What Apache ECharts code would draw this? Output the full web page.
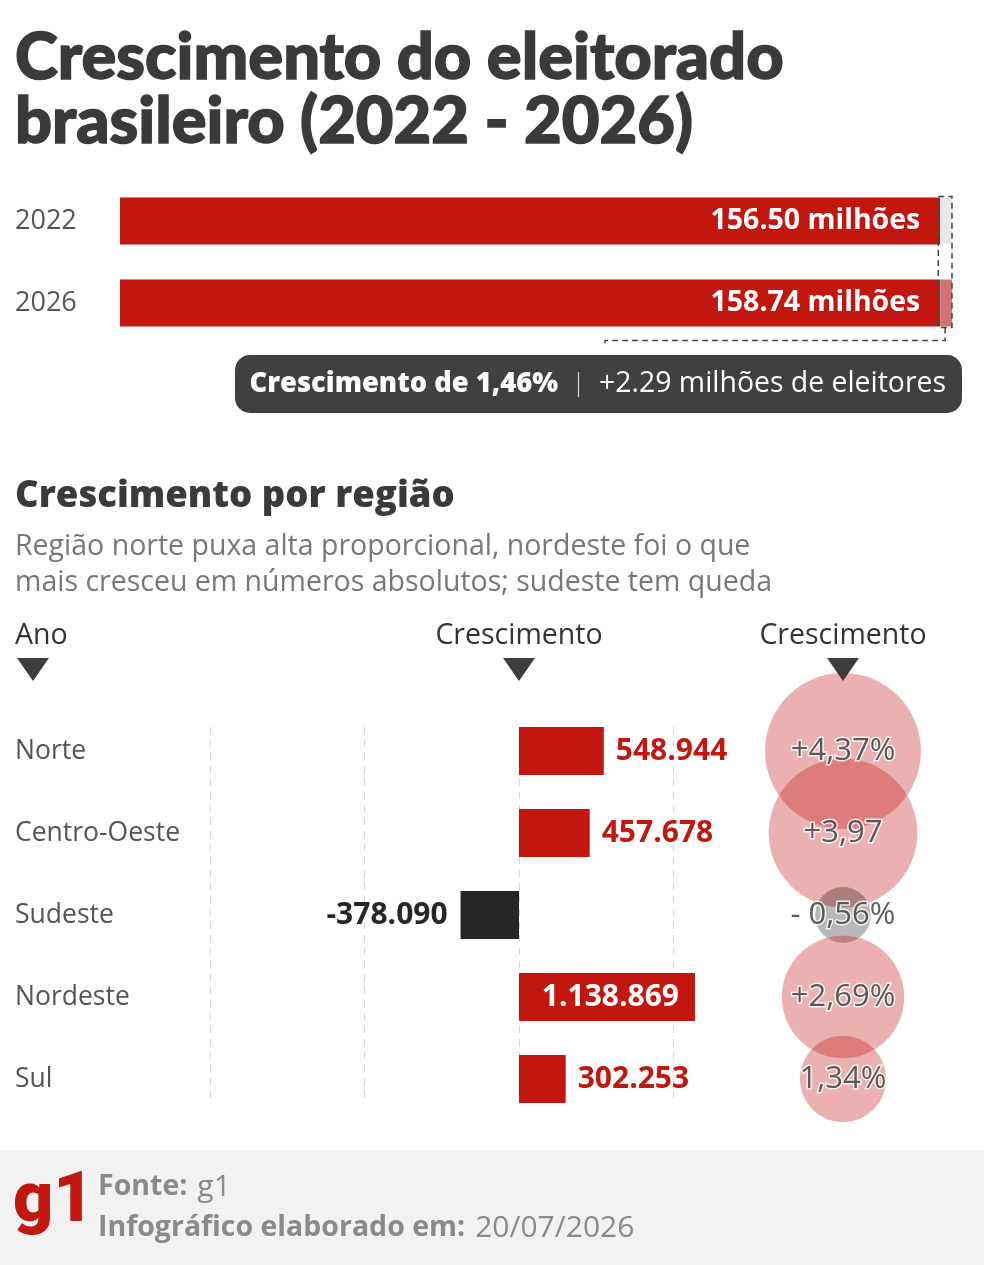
<!DOCTYPE html>
<html><head><meta charset="utf-8">
<script src="https://cdn.jsdelivr.net/npm/echarts@6/dist/echarts.min.js"></script>
<style>html,body{margin:0;padding:0;background:#fff}#c{width:984px;height:1265px}</style>
</head><body><div id="c"></div>
<script>
// ---- data ----
const years = ['2022', '2026'];
const voters = [156.50, 158.74]; // milhões de eleitores
const summaryTexts = ['Crescimento de 1,46%', '+2.29 milhões de eleitores'];
const regions = ['Norte', 'Centro-Oeste', 'Sudeste', 'Nordeste', 'Sul'];
const growthAbs = [548944, 457678, -378090, 1138869, 302253];
const growthPct = [4.37, 3.97, -0.56, 2.69, 1.34];
const growthPctLabels = ['+4,37%', '+3,97', '- 0,56%', '+2,69%', '1,34%'];
const absAxis = { min: -2000000, max: 1000000, interval: 1000000 };
const headers = ['Ano', 'Crescimento', 'Crescimento'];
const footerTexts = [['Fonte:', 'g1'], ['Infográfico elaborado em:', '20/07/2026']];

// ---- style ----
const FONT = 'Open Sans';
const TFONT = 'Lato';
const RED = '#c2170f';
const DARK = '#3a3a3a';
const fmtBR = n => (n < 0 ? '-' : '') + Math.abs(n).toString().replace(/\B(?=(\d{3})+(?!\d))/g, '.');

const baseVal = Math.min(...voters);
const deltaVal = Math.max(...voters) - baseVal;
const deltaColors = ['#e8e8e8', '#d4736f'];

const chart = echarts.init(document.getElementById('c'), null, { renderer: 'canvas' });

const option = {
  backgroundColor: '#fff',
  animation: false,
  textStyle: { fontFamily: FONT },
  title: [
    {
      text: 'Crescimento do eleitorado\nbrasileiro (2022 - 2026)',
      left: 15, top: 26, padding: 0,
      textStyle: { fontFamily: TFONT, fontSize: 65, fontWeight: 900, color: DARK, lineHeight: 64,
                   textBorderColor: DARK, textBorderWidth: 1.5 }
    },
    {
      text: 'Crescimento por região',
      subtext: 'Região norte puxa alta proporcional, nordeste foi o que\nmais cresceu em números absolutos; sudeste tem queda',
      left: 15, top: 478, itemGap: 14, padding: 0,
      textStyle: { fontFamily: FONT, fontSize: 36.5, fontWeight: 800, color: DARK },
      subtextStyle: { fontFamily: FONT, fontSize: 28.5, color: '#777', lineHeight: 36 }
    }
  ],
  grid: [
    { left: 120, top: 180, height: 164, right: 32 },
    { left: 210, top: 727, height: 375, width: 463.5 },
    { left: 210, top: 710, height: 410, width: 463.5 },
    { left: 743, top: 710, height: 410, width: 200 }
  ],
  xAxis: [
    { gridIndex: 0, type: 'value', min: 0, max: v => v.max, show: false },
    { gridIndex: 1, type: 'value', min: absAxis.min, max: absAxis.max, interval: absAxis.interval,
      axisLabel: { show: false }, axisLine: { show: false }, axisTick: { show: false },
      splitLine: { show: true, lineStyle: { color: '#d4d4d4', width: 1, type: [7, 6] } } },
    { gridIndex: 2, type: 'value', min: absAxis.min, max: absAxis.max, show: false, splitLine: { show: false } },
    { gridIndex: 3, type: 'value', min: -1, max: 1, show: false, splitLine: { show: false } }
  ],
  yAxis: [
    { gridIndex: 0, type: 'category', data: years, inverse: true,
      axisLine: { show: false }, axisTick: { show: false },
      axisLabel: { margin: 105, align: 'left', fontSize: 27, color: '#555', fontFamily: FONT } },
    { gridIndex: 1, type: 'category', data: regions, inverse: true, show: false },
    { gridIndex: 2, type: 'category', data: regions, inverse: true,
      axisLine: { show: false }, axisTick: { show: false },
      axisLabel: { margin: 195, align: 'left', fontSize: 26.5, color: '#555', fontFamily: FONT } },
    { gridIndex: 3, type: 'category', data: regions, inverse: true, show: false }
  ],
  series: [
    {
      type: 'bar', xAxisIndex: 0, yAxisIndex: 0, stack: 'total', barWidth: 47,
      data: voters.map(() => baseVal),
      itemStyle: { color: RED },
      label: {
        show: true, position: 'insideRight', distance: 20,
        formatter: p => voters[p.dataIndex].toFixed(2) + ' milhões',
        color: '#fff', fontSize: 28.5, fontWeight: 'bold', fontFamily: FONT
      }
    },
    {
      type: 'bar', xAxisIndex: 0, yAxisIndex: 0, stack: 'total', barWidth: 47,
      data: voters.map((v, i) => ({ value: deltaVal, itemStyle: { color: deltaColors[i] } }))
    },
    {
      type: 'bar', xAxisIndex: 2, yAxisIndex: 2, barWidth: 48, clip: false,
      data: growthAbs.map(v => {
        const neg = v < 0, big = Math.abs(v) >= absAxis.interval;
        return {
          value: v,
          itemStyle: { color: neg ? '#262626' : RED },
          label: {
            show: true,
            position: neg ? 'left' : (big ? 'insideRight' : 'right'),
            distance: neg ? 13 : (big ? 16 : 12),
            color: neg ? '#262626' : (big ? '#fff' : RED),
            fontSize: 30, fontWeight: 'bold', fontFamily: FONT,
            formatter: () => fmtBR(v)
          }
        };
      })
    },
    {
      type: 'scatter', xAxisIndex: 3, yAxisIndex: 3, symbol: 'circle',
      data: growthPct.map((v, i) => ({
        value: [0, regions[i]],
        symbolSize: 74.6 * Math.sqrt(Math.abs(v)),
        itemStyle: { color: v < 0 ? 'rgba(0,0,0,0.35)' : 'rgba(196,22,22,0.42)' },
        label: { formatter: growthPctLabels[i] }
      })),
      label: {
        show: true, position: 'inside', fontSize: 31, color: '#333', fontFamily: FONT,
        textBorderColor: '#fff', textBorderWidth: 3
      }
    }
  ]
};
chart.setOption(option);

// ---- annotations placed through the chart's own scales ----
const p22 = chart.convertToPixel({ gridIndex: 0 }, [baseVal, years[0]]);
const p26 = chart.convertToPixel({ gridIndex: 0 }, [baseVal + deltaVal, years[1]]);
const halfBar = 47 / 2 + 1;
const boxX1 = p22[0] - 2, boxX2 = p26[0], boxY1 = p22[1] - halfBar, boxY2 = p26[1] + halfBar;
const boxMid = (boxX1 + boxX2) / 2;
const zeroX = chart.convertToPixel({ gridIndex: 2 }, [0, regions[0]])[0];
const bubbleX = chart.convertToPixel({ gridIndex: 3 }, [0, regions[0]])[0];
const headerXs = [15, zeroX, bubbleX];

const tri = (cx) => ({
  type: 'polygon', shape: { points: [[cx - 16, 658], [cx + 16, 658], [cx, 681]] },
  style: { fill: '#3d3d3d' }, z: 100
});
const footStyle = (pair) => ({
  text: '{b|' + pair[0] + '}{g| }{r|' + pair[1] + '}', verticalAlign: 'middle',
  rich: {
    b: { fontFamily: FONT, fontSize: 28.5, fontWeight: 'bold', fill: '#8a8a8a' },
    g: { fontFamily: FONT, fontSize: 30, fill: '#8a8a8a', width: 10 },
    r: { fontFamily: FONT, fontSize: 30, fontWeight: 'normal', fill: '#8a8a8a' }
  }
});

const graphics = [
  { type: 'rect', shape: { x: 0, y: 1150, width: 984, height: 115 }, style: { fill: '#f2f2f2' }, z: 0 },
  { type: 'text', x: 13, y: 1203, z: 1, style: { text: 'g1', fill: RED, fontFamily: 'Roboto', fontSize: 70, fontWeight: 900, verticalAlign: 'middle' } },
  { type: 'text', x: 98, y: 1187, style: footStyle(footerTexts[0]), z: 1 },
  { type: 'text', x: 98, y: 1228, style: footStyle(footerTexts[1]), z: 1 },
  // dashed growth box + bracket
  { type: 'rect', shape: { x: boxX1, y: boxY1, width: boxX2 - boxX1, height: boxY2 - boxY1 },
    style: { fill: null, stroke: '#444', lineWidth: 1.5, lineDash: [6, 4] }, z: 50 },
  { type: 'polyline', shape: { points: [[boxMid, boxY2], [boxMid, boxY2 + 13], [605, boxY2 + 13], [605, boxY2 + 19]] },
    style: { fill: null, stroke: '#444', lineWidth: 1.5, lineDash: [6, 4] }, z: 50 },
  // summary pill
  { type: 'rect', shape: { x: 235, y: 355, width: 727, height: 58, r: 15 }, style: { fill: '#404040' }, z: 50 },
  { type: 'text', x: 946, y: 384, z: 51, style: {
      text: '{b|' + summaryTexts[0] + '}{s|  |  }{r|' + summaryTexts[1] + '}',
      align: 'right', verticalAlign: 'middle',
      rich: {
        b: { fontFamily: FONT, fontSize: 27.3, fontWeight: 800, fill: '#fff' },
        s: { fontFamily: FONT, fontSize: 26, fontWeight: 300, fill: '#ddd' },
        r: { fontFamily: FONT, fontSize: 28.4, fontWeight: 'normal', fill: '#fff' }
      } } }
];
headers.forEach((h, i) => {
  graphics.push({ type: 'text', x: headerXs[i], y: 636, z: 100,
    style: { text: h, fontFamily: FONT, fontSize: 28.5, fill: '#333', align: i === 0 ? 'left' : 'center', verticalAlign: 'middle' } });
  graphics.push(tri(i === 0 ? 33 : headerXs[i]));
});
chart.setOption({ graphic: graphics });
</script>
</body></html>
